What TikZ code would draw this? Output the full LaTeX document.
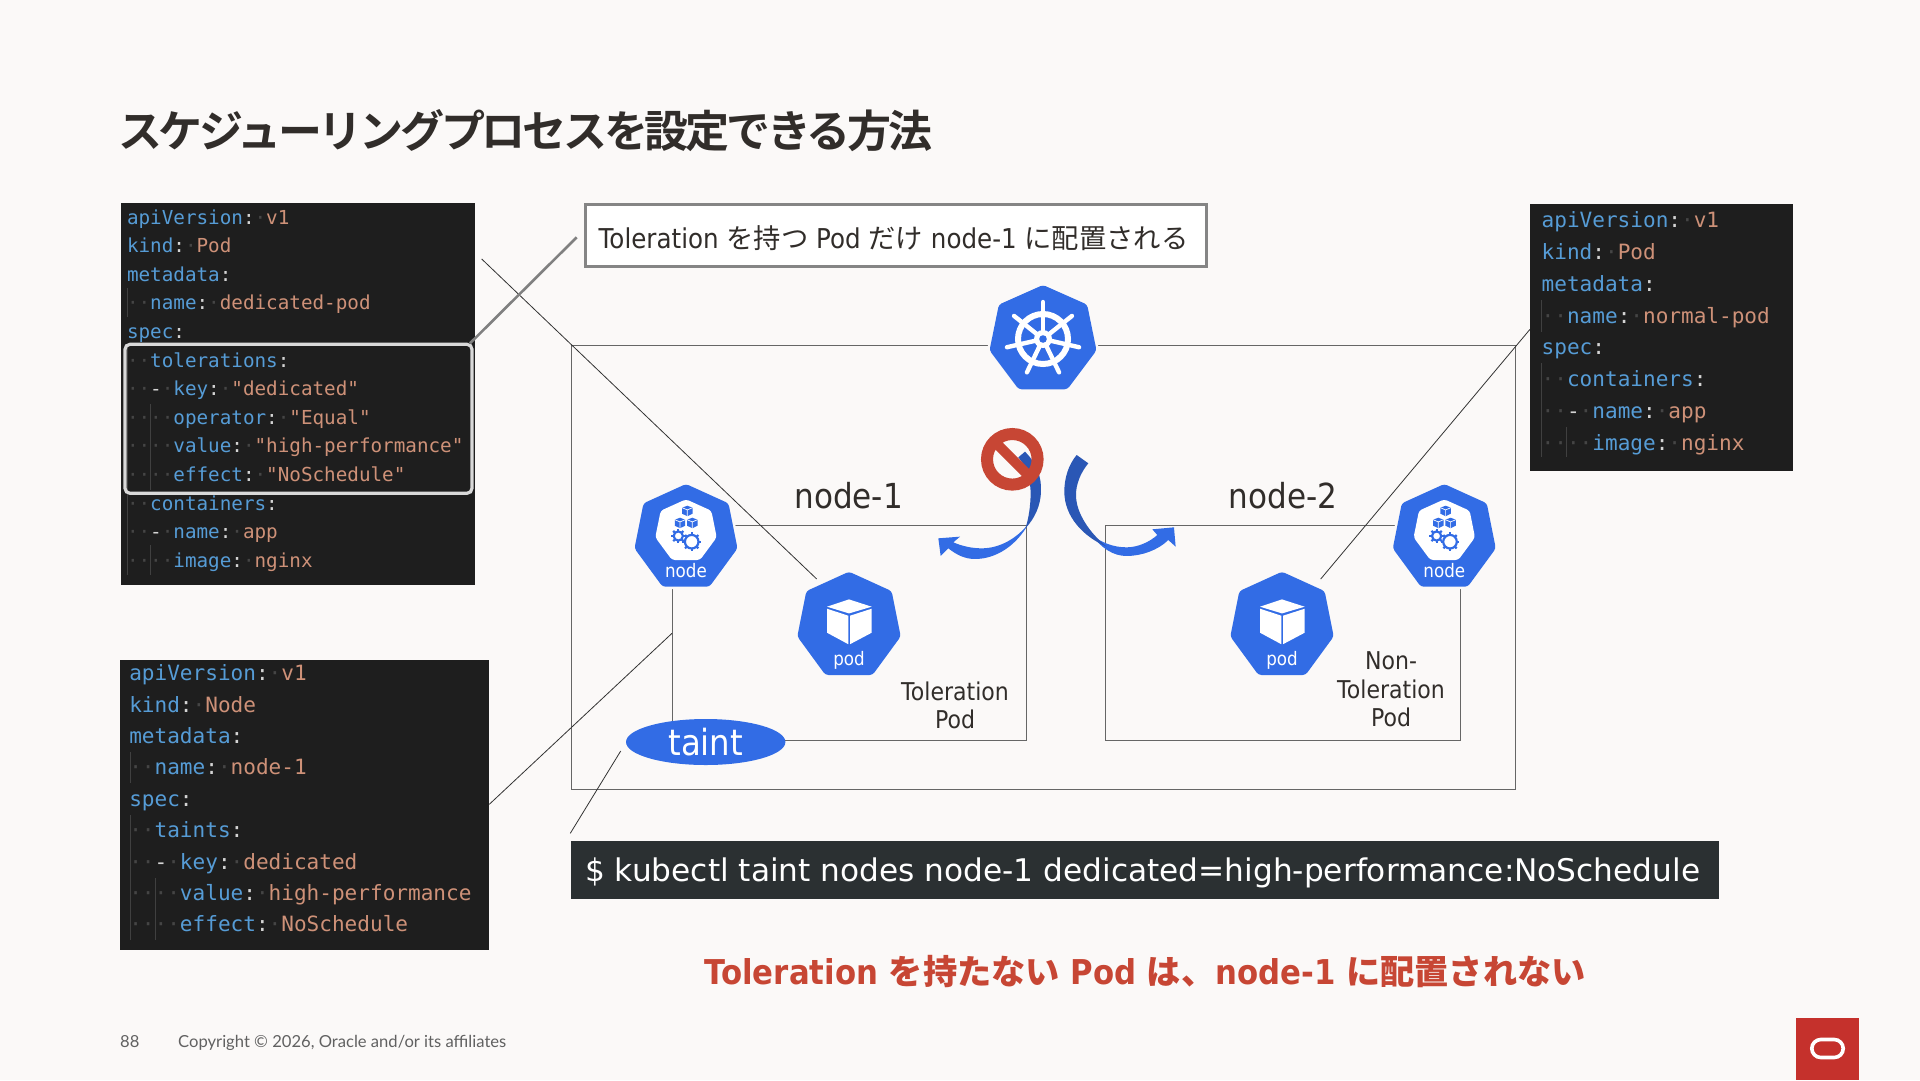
\documentclass[tikz,border=0pt]{standalone}
\usepackage{fontspec}
\usetikzlibrary{shapes.geometric,calc}
\newfontfamily\dvf[FakeStretch=0.9]{DejaVu Sans}
\newfontfamily\dvw{DejaVu Sans}
\newfontfamily\jpf{Noto Sans CJK JP}
\newfontfamily\ttlf[LetterSpace=-7.4]{Noto Sans CJK JP Bold}
\newfontfamily\codef{DejaVu Sans Mono}
\newfontfamily\ftf{Lato}
\newcommand\fsz[2]{\fontsize{#1}{#2}\selectfont}
\definecolor{bgc}{HTML}{FBF9F8}
\definecolor{k8s}{HTML}{326CE5}
\definecolor{k8sd}{HTML}{2A57B5}
\definecolor{orared}{HTML}{C74634}
\definecolor{logored}{HTML}{C5312C}
\definecolor{codebg}{HTML}{1E1E1E}
\definecolor{ckc}{HTML}{569CD6}
\definecolor{cvc}{HTML}{CE9178}
\definecolor{cpc}{HTML}{D4D4D4}
\definecolor{cwc}{HTML}{454545}
\definecolor{guidec}{HTML}{404040}
\definecolor{ink}{HTML}{312D2A}
\definecolor{cmdbg}{HTML}{2B3032}
\newcommand\ck[1]{\textcolor{ckc}{#1}}
\newcommand\cv[1]{\textcolor{cvc}{#1}}
\newcommand\cp[1]{\textcolor{cpc}{#1}}
\newcommand\cw[1]{\textcolor{cwc}{#1}}
\newcommand\jt[1]{{\jpf #1}}
% one code line: name, index, content
\newcommand\cl[3]{\pgfmathsetmacro\yy{\cdy+\cdd*#2}\node[cline] (#1) at (\cdx,\yy) {#3};}
\newcommand\guide[3]{\draw[guidec,line width=1pt] (#1,#2) -- (#1,#3);}
\def\heptp{(0,0) -- (.825,.188) -- (1,.627) -- (.455,1) -- (-.455,1) -- (-1,.627) -- (-.825,.188) -- cycle}
% hept icon body: cx top halfwidth height
\newcommand\hept[4]{\begin{scope}[shift={(#1,#2)},x=#3pt,y=-#4pt]
  \fill[k8s,draw=bgc,line width=5pt,rounded corners=3pt] \heptp;
  \fill[k8s,rounded corners=3pt] \heptp;
\end{scope}}
\newcommand\podicon[3]{\hept{#2}{571.7}{51.7}{103.3}
 \begin{scope}[shift={(#2,571.7)}]
  \fill[white] (-22,35) -- (0,27.7) -- (22.7,35) -- (0,41.7) -- cycle;
  \fill[white] (-22,37) -- (-.7,44) -- (-.7,72.5) -- (-22,61) -- cycle;
  \fill[white] (1,44) -- (22.7,37) -- (22.7,61) -- (1,72.5) -- cycle;
  \node[iconlabel] (#1) at (0,88.5) {#3};
 \end{scope}}
\newcommand\minicube[2]{\begin{scope}[shift={(#1,#2)}]
  \fill[k8s] (0,-5) -- (5.2,-3) -- (5.2,3) -- (0,5.5) -- (-5.2,3) -- (-5.2,-3) -- cycle;
  \draw[white,line width=.7pt] (-5.2,-3) -- (0,-.8) -- (5.2,-3) (0,-.8) -- (0,5.5);
 \end{scope}}
\newcommand\gear[3]{\begin{scope}[shift={(#1,#2)}]
  \foreach \a in {0,45,...,315} {\draw[k8s,line width=2.2pt] (\a:#3-1) -- (\a:#3+2.6);}
  \draw[k8s,line width=2.2pt,fill=white] (0,0) circle (#3);
 \end{scope}}
\newcommand\nodeicon[3]{\hept{#2}{484}{51.5}{102.7}
 \begin{scope}[shift={(#2,484)}]
  \begin{scope}[shift={(0,15.3)},x=30.7pt,y=-60.7pt]
   \fill[white,rounded corners=3pt] \heptp;
  \end{scope}
  \minicube{1.3}{26.7}\minicube{-6}{38.7}\minicube{6.3}{38.7}
  \gear{-7.7}{52}{4.6}\gear{5.7}{57.7}{6.8}
  \node[iconlabel] (#1) at (0,87) {#3};
 \end{scope}}
\tikzset{
 cline/.style={anchor=base west,inner sep=0pt,outer sep=0pt,font=\codefont},
 iconlabel/.style={inner sep=0pt,text=white,font=\dvf\fsz{18.6}{20}},
 rectbox/.style={draw=#1,line width=1pt,inner sep=0pt,outer sep=0pt,anchor=north west,rectangle},
 rectbox/.default={black!60},
 thinline/.style={draw=black!80,line width=.8pt},
 label/.style={inner sep=0pt,text=ink,align=center},
 codebox/.style={fill=codebg,inner sep=0pt,outer sep=0pt,anchor=north west,rectangle},
}
\begin{document}
\begin{tikzpicture}[x=1pt,y=-1pt]
\useasboundingbox (0,0) rectangle (1920,1080);
\fill[bgc] (0,0) rectangle (1920,1080);
% title
\node[anchor=west,inner sep=0pt,text=ink,font=\ttlf\fsz{44}{50}] (title) at (118,130.5) {スケジューリングプロセスを設定できる方法};
% frames
\node[rectbox,minimum width=944pt,minimum height=444.3pt] (cluster) at (571.3,345) {};
\node[rectbox,minimum width=354.4pt,minimum height=214.6pt] (nodeA) at (672,525.7) {};
\node[rectbox,minimum width=355pt,minimum height=214.6pt] (nodeB) at (1105.3,525.7) {};
% connector ends
\coordinate (p1) at (481.7,259);
\coordinate (p2) at (816.7,579);
\coordinate (p3) at (489.3,804.3);
\coordinate (p4) at (672,633.3);
\coordinate (p5) at (570.3,833.3);
\coordinate (p6) at (620.7,751);
\coordinate (p7) at (1530,329.3);
\coordinate (p8) at (1320.7,579);
\coordinate (p10) at (576.7,237.3);
\draw[thinline] (p1) -- (p2);
\draw[thinline] (p3) -- (p4);
\draw[thinline] (p5) -- (p6);
\draw[thinline] (p7) -- (p8);
% icons
\hept{1043}{285}{53.5}{104.3}
\begin{scope}[shift={(1043,339)}]
 \foreach \a in {90,141.43,192.86,244.29,295.71,347.14,38.57} {\draw[white,line width=4.4pt,line cap=round] (0,0) -- (\a:-37);}
 \draw[white,line width=6pt] (0,0) circle (25);
 \fill[white] (0,0) circle (9);
 \fill[k8s] (0,0) circle (3.8);
\end{scope}
\nodeicon{nodeIconA}{686}{node}
\nodeicon{nodeIconB}{1444.3}{node}
\podicon{podIconA}{849}{pod}
\podicon{podIconB}{1282}{pod}
% taint
\node[ellipse,fill=k8s,inner sep=0pt,minimum width=159.4pt,minimum height=46pt,text=white,font=\dvf\fsz{36}{40}] (taint) at (705.7,742) {taint};
% labels
\node[label,font=\dvf\fsz{34.5}{38}] (labelA) at (848.6,496) {node-1};
\node[label,font=\dvf\fsz{34.5}{38}] (labelB) at (1283,496) {node-2};
\node[label,font=\dvf\fsz{24.5}{28.5}] (tolA) at (955,705.5) {Toleration\\Pod};
\node[label,font=\dvf\fsz{24.5}{28.5}] (tolB) at (1391,689.5) {Non-\\Toleration\\Pod};
% arrows
\begin{scope}[shift={(920,420)},x=.3333pt,y=-.3333pt]
 \fill[k8s] (325,312) .. controls (290,355) and (240,385) .. (185,385) .. controls (155,385) and (125,378) .. (100,367) -- (120,350) -- (55,355) -- (62,408) -- (85,385) .. controls (110,405) and (135,417) .. (165,417) .. controls (230,417) and (290,375) .. (325,312) -- cycle;
 \fill[k8sd] (315,95) .. controls (350,130) and (365,170) .. (363,215) .. controls (362,255) and (345,295) .. (316,325) .. controls (325,300) and (332,260) .. (332,215) .. controls (330,170) and (315,135) .. (295,112) -- cycle;
 \fill[k8s] (515,345) .. controls (545,368) and (580,382) .. (620,382) .. controls (655,382) and (690,365) .. (712,345) -- (697,328) -- (762,322) -- (767,380) -- (745,360) .. controls (715,390) and (665,408) .. (620,408) .. controls (580,408) and (545,385) .. (515,345) -- cycle;
 \fill[k8sd] (470,105) -- (505,130) .. controls (480,160) and (468,195) .. (468,225) .. controls (468,280) and (510,340) .. (560,380) .. controls (490,350) and (433,290) .. (433,215) .. controls (433,175) and (445,135) .. (470,105) -- cycle;
\end{scope}
% no sign
\begin{scope}[shift={(1012.3,459.3)}]
 \draw[orared,line width=12pt] (0,0) circle (25.3);
 \draw[orared,line width=10pt] (-18,-18) -- (18,18);
\end{scope}
% callout
\node[rectbox=black!48,fill=white,line width=3pt,minimum width=621pt,minimum height=62pt] (callout) at (585,204) {};
\node[label,text=ink,font=\dvf\fsz{27.3}{32}] (calloutText) at (893.5,238) {Toleration \jt{を持つ} Pod \jt{だけ} node-1 \jt{に配置される}};
% command
\node[rectangle,fill=cmdbg,inner sep=0pt,anchor=north west,minimum width=1148pt,minimum height=58pt] (cmd) at (571,840.5) {};
\node[anchor=west,inner sep=0pt,text=white,font=\dvw\fsz{31.2}{36}] (cmdText) at (585,873) {\$ kubectl taint nodes node-1 dedicated=high-performance:NoSchedule};
% red note
\node[anchor=center,inner sep=0pt,text=orared,font=\dvf\bfseries\fsz{34.2}{38}] (note) at (1145,972) {Toleration \jt{\bfseries を持たない} Pod \jt{\bfseries は、}node-1 \jt{\bfseries に配置されない}};
% code box 1
\def\codefont{\codef\fsz{19.27}{22}}
\node[codebox,minimum width=354pt,minimum height=382pt] (yamlA) at (121,203) {};
\def\cdx{127}\def\cdy{224}\def\cdd{28.6}
\cl{a0}{0}{\ck{apiVersion}\cp{:}\cw{·}\cv{v1}}
\cl{a1}{1}{\ck{kind}\cp{:}\cw{·}\cv{Pod}}
\cl{a2}{2}{\ck{metadata}\cp{:}}
\cl{a3}{3}{\cw{··}\ck{name}\cp{:}\cw{·}\cv{dedicated-pod}}
\cl{a4}{4}{\ck{spec}\cp{:}}
\cl{a5}{5}{\cw{··}\ck{tolerations}\cp{:}}
\cl{a6}{6}{\cw{··}\cp{-}\cw{·}\ck{key}\cp{:}\cw{·}\cv{"dedicated"}}
\cl{a7}{7}{\cw{····}\ck{operator}\cp{:}\cw{·}\cv{"Equal"}}
\cl{a8}{8}{\cw{····}\ck{value}\cp{:}\cw{·}\cv{"high-performance"}}
\cl{a9}{9}{\cw{····}\ck{effect}\cp{:}\cw{·}\cv{"NoSchedule"}}
\cl{a10}{10}{\cw{··}\ck{containers}\cp{:}}
\cl{a11}{11}{\cw{··}\cp{-}\cw{·}\ck{name}\cp{:}\cw{·}\cv{app}}
\cl{a12}{12}{\cw{····}\ck{image}\cp{:}\cw{·}\cv{nginx}}
\guide{127.3}{288}{317}\guide{127.3}{346}{575}\guide{150.7}{404}{490}\guide{150.7}{545}{575}
\node[rectangle,draw=black!15,line width=3.2pt,rounded corners=5pt,inner sep=0pt,outer sep=0pt,anchor=north west,minimum width=347pt,minimum height=149pt] (hilite) at (125,344.3) {};
\draw[black!50,line width=2.6pt] (hilite.north east) ++(-2,-1) -- (p10);
% code box 2
\def\codefont{\codef\fsz{21.05}{24}}
\node[codebox,minimum width=369pt,minimum height=290pt] (yamlB) at (120,660) {};
\def\cdx{129.3}\def\cdy{680.7}\def\cdd{31.4}
\cl{b0}{0}{\ck{apiVersion}\cp{:}\cw{·}\cv{v1}}
\cl{b1}{1}{\ck{kind}\cp{:}\cw{·}\cv{Node}}
\cl{b2}{2}{\ck{metadata}\cp{:}}
\cl{b3}{3}{\cw{··}\ck{name}\cp{:}\cw{·}\cv{node-1}}
\cl{b4}{4}{\ck{spec}\cp{:}}
\cl{b5}{5}{\cw{··}\ck{taints}\cp{:}}
\cl{b6}{6}{\cw{··}\cp{-}\cw{·}\ck{key}\cp{:}\cw{·}\cv{dedicated}}
\cl{b7}{7}{\cw{····}\ck{value}\cp{:}\cw{·}\cv{high-performance}}
\cl{b8}{8}{\cw{····}\ck{effect}\cp{:}\cw{·}\cv{NoSchedule}}
\guide{130}{752}{783}\guide{130}{815}{940}\guide{155}{878}{940}
% code box 3
\def\codefont{\codef\fsz{21.05}{24}}
\node[codebox,minimum width=262.7pt,minimum height=266.7pt] (yamlC) at (1530,204) {};
\def\cdx{1541.7}\def\cdy{227.6}\def\cdd{31.8}
\cl{c0}{0}{\ck{apiVersion}\cp{:}\cw{·}\cv{v1}}
\cl{c1}{1}{\ck{kind}\cp{:}\cw{·}\cv{Pod}}
\cl{c2}{2}{\ck{metadata}\cp{:}}
\cl{c3}{3}{\cw{··}\ck{name}\cp{:}\cw{·}\cv{normal-pod}}
\cl{c4}{4}{\ck{spec}\cp{:}}
\cl{c5}{5}{\cw{··}\ck{containers}\cp{:}}
\cl{c6}{6}{\cw{··}\cp{-}\cw{·}\ck{name}\cp{:}\cw{·}\cv{app}}
\cl{c7}{7}{\cw{····}\ck{image}\cp{:}\cw{·}\cv{nginx}}
\guide{1541.7}{300}{332}\guide{1541.7}{363}{457}\guide{1566.7}{427}{457}
% footer
\node[anchor=base west,inner sep=0pt,text=black!62,font=\ftf\fsz{16.6}{20}] (pageno) at (120,1047) {88};
\node[anchor=base west,inner sep=0pt,text=black!62,font=\ftf\fsz{16.6}{20}] (copyright) at (178,1047) {Copyright © 2026, Oracle and/or its affiliates};
% logo
\fill[logored] (1796,1018.3) rectangle (1858.7,1080);
\draw[white,line width=3.6pt,rounded corners=9pt] (1811.8,1039.5) rectangle (1843.2,1057.5);
\end{tikzpicture}
\end{document}
